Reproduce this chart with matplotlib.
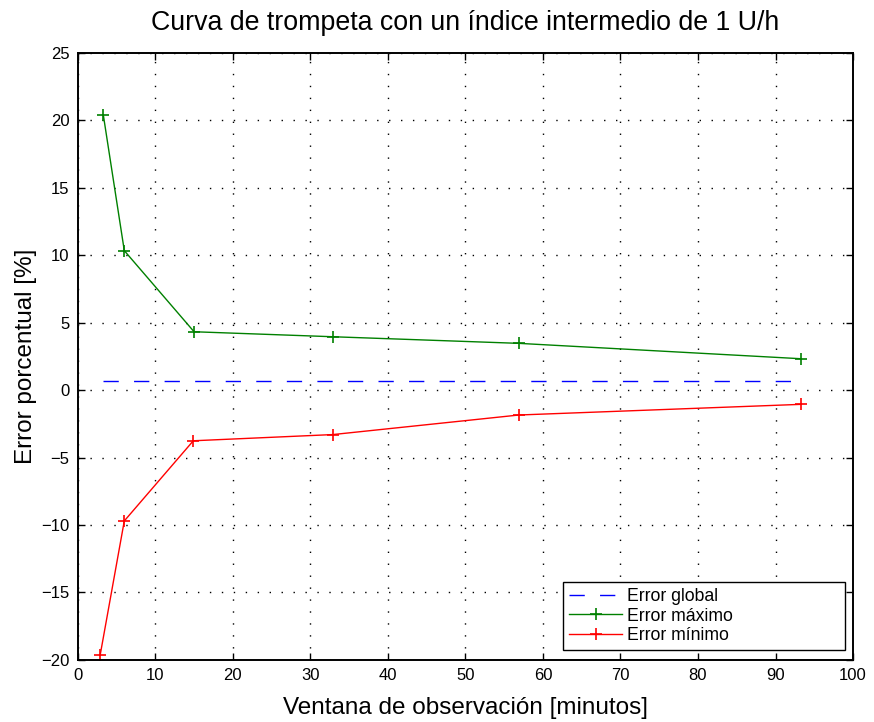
import matplotlib
matplotlib.use("Agg")
import matplotlib.pyplot as plt

# Data
x_max = [3.3, 6.0, 15.0, 32.9, 56.9, 93.3]
err_max = [20.36, 10.33, 4.32, 3.95, 3.46, 2.32]
x_min = [2.9, 6.0, 14.9, 32.9, 56.9, 93.3]
err_min = [-19.6, -9.7, -3.76, -3.3, -1.85, -1.06]
x_global = [3.2, 92.2]
err_global = [0.65, 0.65]

title = "Curva de trompeta con un índice intermedio de 1 U/h"
xlabel = "Ventana de observación [minutos]"
ylabel = "Error porcentual [%]"
xticks = list(range(0, 101, 10))
yticks = list(range(-20, 26, 5))

plt.rcParams['font.family'] = ['Liberation Sans', 'DejaVu Sans']

fig = plt.figure(figsize=(8.74, 7.22), dpi=100)
ax = fig.add_axes([0.089, 0.086, 0.887, 0.841])

ax.plot(x_global, err_global, color='blue', lw=1, dashes=(11, 11), label='Error global')
ax.plot(x_max, err_max, color='green', lw=1, marker='+', ms=8, mew=1.2, label='Error máximo')
ax.plot(x_min, err_min, color='red', lw=1, marker='+', ms=8, mew=1.2, label='Error mínimo')

ax.set_xlim(0, 100)
ax.set_ylim(-20, 25)
ax.set_xticks(xticks)
ax.set_yticks(yticks)
ax.tick_params(direction='in', top=True, right=True, labelsize=12, length=5, width=1, pad=6)
ax.grid(True, color='black', linestyle=(0, (1, 7.6)), linewidth=1)
for s in ax.spines.values():
    s.set_linewidth(1.4)

ax.set_title(title, fontsize=19.3, pad=16)
ax.set_xlabel(xlabel, fontsize=17.5, labelpad=10)
ax.set_ylabel(ylabel, fontsize=17.5, labelpad=3)

leg = ax.legend(loc='lower left', bbox_to_anchor=(0.626, 0.0165, 0.364, 0.1), mode='expand',
                fontsize=12.7, fancybox=False, framealpha=1,
                edgecolor='black', borderaxespad=0, handlelength=3, handletextpad=0.3,
                borderpad=0.35, labelspacing=0.12)
leg.get_frame().set_linewidth(1)

fig.savefig('out.png', dpi=100)
